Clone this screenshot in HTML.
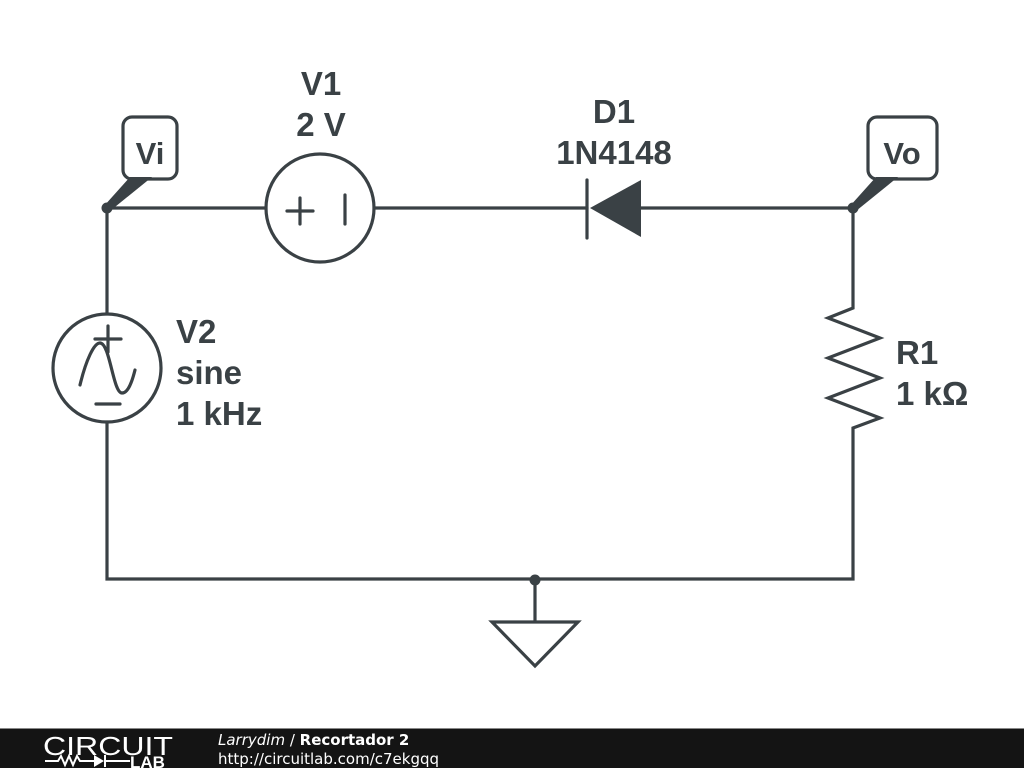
<!DOCTYPE html>
<html><head><meta charset="utf-8"><style>
body{margin:0;width:1024px;height:768px;overflow:hidden;background:#fff;font-family:"Liberation Sans",sans-serif}
</style></head><body>
<svg width="1024" height="768" viewBox="0 0 1024 768" style="position:absolute;left:0;top:0">
<g stroke="#3a4145" stroke-width="3.2" fill="none" stroke-linecap="round" stroke-linejoin="miter">
<path d="M107 208 H266 M374 208 H587 M640 208 H853 V308 L828 318 L880 338 L828 358 L880 378 L828 398 L880 418 L853 428 V579 H107 V422 M107 314 V208"/>
<circle cx="320" cy="208" r="54"/>
<circle cx="107" cy="368" r="54"/>
<path d="M287 211 H313 M300 198 V224 M345 195 V224"/>
<path d="M95 339 H121 M108 326 V352 M96 404 H120"/>
<path d="M80 385 C86 360 94 343 100 343 C110 343 113 393 122 393 C128 393 132 382 135 370" />
<path d="M587 180 V238"/>
<path d="M535 580 V622 M492 622 H578 L535 666 Z"/>
<rect x="123" y="117" width="54" height="62" rx="9"/>
<rect x="868" y="117" width="69" height="62" rx="9"/>
</g>
<g fill="#3a4145">
<polygon points="590,208 641,180 641,237"/>
<circle cx="107" cy="208" r="5.5"/>
<circle cx="853" cy="208" r="5.5"/>
<circle cx="535" cy="580" r="5.5"/>
<polygon points="104,206 130,177 152,177 110,211"/>
<polygon points="850,206 876,177 898,177 856,211"/>
</g>
<g fill="#3a4145" font-weight="bold" font-size="33" font-family="Liberation Sans,sans-serif">
<text x="150" y="164" text-anchor="middle" font-size="31">Vi</text>
<text x="902" y="164" text-anchor="middle" font-size="31">Vo</text>
<text x="321" y="95" text-anchor="middle">V1</text>
<text x="321" y="136" text-anchor="middle">2 V</text>
<text x="614" y="123" text-anchor="middle">D1</text>
<text x="614" y="164" text-anchor="middle">1N4148</text>
<text x="176" y="343">V2</text>
<text x="176" y="384">sine</text>
<text x="176" y="425">1 kHz</text>
<text x="896" y="364">R1</text>
<text x="896" y="405">1 kΩ</text>
</g>
<rect x="0" y="729" width="1024" height="39" fill="#141414"/>
<rect x="0" y="728" width="1024" height="1" fill="#888"/>
<text x="43" y="755" fill="#fff" font-size="26" font-family="Liberation Sans,sans-serif" textLength="130" lengthAdjust="spacingAndGlyphs" style="font-weight:normal">CIRCUIT</text>
<g stroke="#fff" stroke-width="2" fill="none"><path d="M45 761 H58 L61 756 L65 765 L69 756 L73 765 L77 756 L80 761 H94 M106 761 H130"/></g>
<polygon points="94,755 94,767 104,761" fill="#fff"/><rect x="104" y="755" width="2" height="12" fill="#fff"/>
<text x="130" y="768" fill="#fff" font-size="17" font-weight="bold" font-family="Liberation Sans,sans-serif">LAB</text>
<text x="218" y="745" fill="#fff" font-size="15" font-family="DejaVu Sans,sans-serif"><tspan font-style="italic">Larrydim</tspan> / <tspan font-weight="bold">Recortador 2</tspan></text>
<text x="218" y="764" fill="#fff" font-size="15" font-family="DejaVu Sans,sans-serif">http://circuitlab.com/c7ekgqq</text>
</svg>
</body></html>
